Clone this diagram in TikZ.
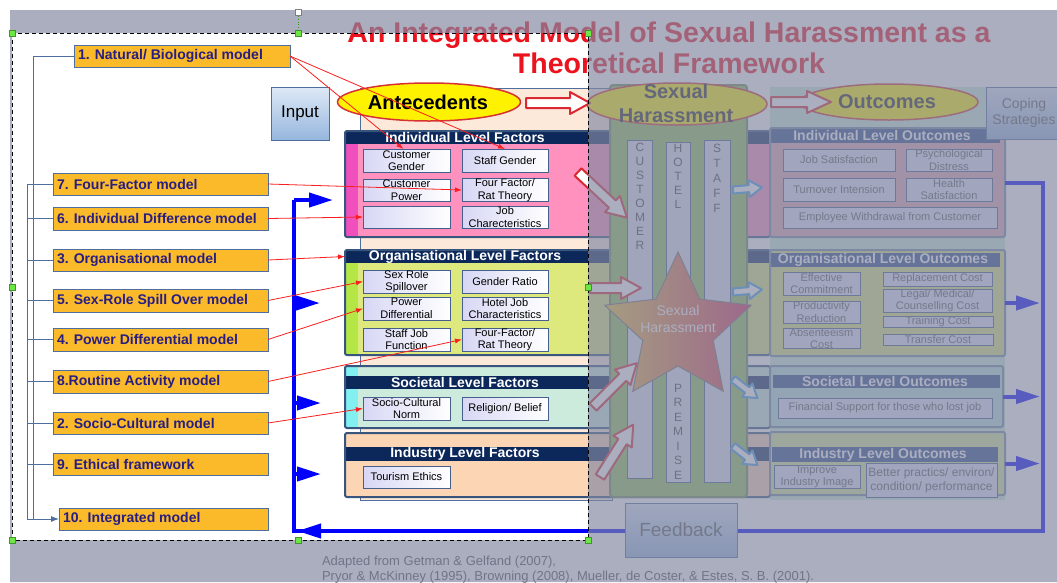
\documentclass[tikz,border=0pt]{standalone}
\usepackage{fontspec}
\setmainfont{Liberation Sans}
\usetikzlibrary{shapes.geometric,arrows.meta,calc}

\definecolor{modelfill}{RGB}{251,186,41}
\definecolor{modeledge}{RGB}{79,110,160}
\definecolor{modeltext}{RGB}{40,30,130}
\definecolor{navy}{RGB}{12,40,90}
\definecolor{steel}{RGB}{55,85,125}
\definecolor{pinkbody}{RGB}{255,145,190}
\definecolor{pinkstrip}{RGB}{240,80,190}
\definecolor{limebody}{RGB}{221,232,125}
\definecolor{limestrip}{RGB}{180,230,70}
\definecolor{mintbody}{RGB}{205,235,220}
\definecolor{cyanstrip}{RGB}{130,240,240}
\definecolor{peach}{RGB}{252,214,180}
\definecolor{peachpanel}{RGB}{253,233,217}
\definecolor{subfill}{RGB}{215,215,245}
\definecolor{subedge}{RGB}{70,95,140}
\definecolor{linkred}{RGB}{250,30,30}
\definecolor{loopblue}{RGB}{0,0,255}
\definecolor{dimgrey}{RGB}{130,136,162}
\definecolor{colgreen}{RGB}{150,195,90}
\definecolor{coledge}{RGB}{110,140,90}
\definecolor{stripgrey}{RGB}{228,228,242}
\definecolor{inputtop}{RGB}{222,233,246}
\definecolor{inputbot}{RGB}{150,182,222}
\definecolor{outhead}{RGB}{45,75,135}
\definecolor{outpanel}{RGB}{205,238,215}
\definecolor{outrose}{RGB}{228,170,178}
\definecolor{outmint}{RGB}{185,228,222}
\definecolor{outtext}{RGB}{90,90,90}
\definecolor{blockred}{RGB}{220,40,50}
\definecolor{blockblue}{RGB}{60,160,225}
\definecolor{ellred}{RGB}{215,50,50}
\definecolor{starL}{RGB}{240,200,60}
\definecolor{starR}{RGB}{215,40,90}
\definecolor{handlefill}{RGB}{110,230,70}
\definecolor{handleedge}{RGB}{60,150,40}
\definecolor{titlered}{RGB}{235,20,30}

% rectangle node given by its corners
\newcommand{\boxnode}[7]{%
  \node[#1, minimum width={(#5)-(#3)}, minimum height={(#6)-(#4)}]
    (#2) at ({((#3)+(#5))/2},{((#4)+(#6))/2}) {#7};}
% orange model box with left-aligned label
\newcommand{\modelbox}[6]{%
  \boxnode{modelbox}{#1}{#2}{#3}{#4}{#5}{}%
  \node[modeltxt] at ($(#1.west)+(4,0)$) {#6};}
% hollow block arrow: style, tail x, tail y, angle, length, shaft, head width, head length
\newcommand{\blockarrow}[8]{%
  \begin{scope}[shift={(#2,#3)},rotate=#4]
    \draw[#1] (0,{-(#6)/2}) -- ({(#5)-(#8)},{-(#6)/2}) -- ({(#5)-(#8)},{-(#7)/2})
      -- (#5,0) -- ({(#5)-(#8)},{(#7)/2}) -- ({(#5)-(#8)},{(#6)/2}) -- (0,{(#6)/2}) -- cycle;
  \end{scope}}

\begin{document}
\begin{tikzpicture}[x=1pt,y=-1pt,
  every node/.style={inner sep=0pt,outer sep=0pt},
  modelbox/.style={draw=modeledge,fill=modelfill,line width=0.8pt},
  modeltxt/.style={anchor=west,text=modeltext,font=\bfseries\fontsize{14}{16}\selectfont},
  grphead/.style={fill=navy},
  outhd/.style={fill=outhead},
  grpline/.style={draw=steel,line width=2pt,rounded corners=2pt},
  headtxt/.style={text=white,font=\bfseries\fontsize{14}{16}\selectfont},
  subbox/.style={draw=subedge,line width=0.8pt,left color=subfill,right color=white,align=center,font=\fontsize{11}{12.5}\selectfont,text=black},
  outbox/.style={draw=subedge,line width=0.8pt,fill=subfill!70!white,align=center,font=\fontsize{11}{12.5}\selectfont,text=outtext},
  redlink/.style={draw=linkred,line width=0.8pt,-{Latex[length=7pt,width=5pt]}},
  leftrail/.style={draw=modeledge,line width=0.9pt},
  fbline/.style={draw=loopblue,line width=4pt,line join=miter},
  fbhead/.style={draw=loopblue,line width=4pt,-{Triangle[length=24pt,width=14pt]}},
  redblock/.style={draw=blockred,line width=2pt,fill=white,line join=round},
  blueblock/.style={draw=blockblue,line width=2pt,fill=white,line join=round},
  softbox/.style={draw=modeledge,line width=0.8pt,top color=inputtop,bottom color=inputbot,align=center},
  colletter/.style={text=black!75,font=\fontsize{12}{12}\selectfont},
  handlesq/.style={draw=handleedge,fill=handlefill,minimum size=6pt,line width=0.5pt},
]
\useasboundingbox (0,0) rectangle (1057,582);
\fill[white] (0,0) rectangle (1057,582);

% ---------- title ----------
\node[anchor=base,text=titlered,font=\bfseries\fontsize{28.5}{30}\selectfont] (title1) at (669,42) {An Integrated Model of Sexual Harassment as a};
\node[anchor=base,text=titlered,font=\bfseries\fontsize{28.5}{30}\selectfont] (title2) at (669,73) {Theoretical Framework};

% ---------- background panels ----------
\boxnode{fill=peachpanel,draw=modeledge,line width=0.5pt}{antePanel}{360}{88}{612}{500}{}
\boxnode{fill=outpanel}{outPanel}{770}{87}{1005}{500}{}

% ---------- factor groups ----------
\boxnode{fill=pinkbody}{indF}{345}{131}{770}{237}{}
\fill[pinkstrip] (345,144) rectangle (358,237);
\boxnode{grphead}{indFhead}{345}{131}{770}{144}{}
\draw[grpline] (indF.north west) rectangle (indF.south east);
\node[headtxt] at (465,137.5) {Individual Level Factors};

\boxnode{fill=limebody}{orgF}{345}{250}{770}{355}{}
\fill[limestrip] (345,263) rectangle (358,355);
\boxnode{grphead}{orgFhead}{345}{250}{770}{263}{}
\draw[grpline] (orgF.north west) rectangle (orgF.south east);
\node[headtxt] at (465,256.5) {Organisational Level Factors};

\boxnode{fill=mintbody}{socF}{345}{366}{770}{428}{}
\fill[cyanstrip] (345,366) rectangle (358,428);
\boxnode{grphead}{socFhead}{345}{376}{770}{389}{}
\draw[grpline] (socF.north west) rectangle (socF.south east);
\node[headtxt] at (465,382.5) {Societal Level Factors};

\boxnode{fill=peach}{indusF}{345}{433}{770}{497}{}
\boxnode{grphead}{indusFhead}{345}{447}{770}{461}{}
\draw[grpline] (indusF.north west) rectangle (indusF.south east);
\node[headtxt] at (465,454) {Industry Level Factors};

% factor items
\boxnode{subbox}{cg}{363}{149}{450}{172}{Customer\\Gender}
\boxnode{subbox}{sg}{462}{149}{548}{172}{Staff Gender}
\boxnode{subbox}{cp}{363}{179}{450}{201}{Customer\\Power}
\boxnode{subbox}{ffa}{462}{179}{548}{201}{Four Factor/\\Rat Theory}
\boxnode{subbox}{emp}{363}{206}{450}{228}{}
\boxnode{subbox}{jc}{462}{206}{548}{228}{Job\\Charecteristics}
\boxnode{subbox}{srs}{363}{270}{450}{293}{Sex Role\\Spillover}
\boxnode{subbox}{gr}{462}{270}{548}{293}{Gender Ratio}
\boxnode{subbox}{pd}{363}{297}{450}{320}{Power\\Differential}
\boxnode{subbox}{hjc}{462}{297}{548}{320}{Hotel Job\\Characteristics}
\boxnode{subbox}{sjf}{363}{328}{450}{351}{Staff Job\\Function}
\boxnode{subbox}{ffb}{462}{328}{548}{351}{Four-Factor/\\Rat Theory}
\boxnode{subbox}{scn}{363}{397}{450}{420}{Socio-Cultural\\Norm}
\boxnode{subbox}{rb}{462}{397}{548}{420}{Religion/ Belief}
\boxnode{subbox}{te}{363}{466}{450}{488}{Tourism Ethics}

% ---------- outcome groups ----------
\boxnode{fill=outrose}{indO}{770}{128}{1005}{237}{}
\boxnode{outhd}{indOhead}{770}{128}{1000}{143}{}
\draw[grpline,draw=steel!70] (indO.north west) rectangle (indO.south east);
\node[headtxt] at (882,135.5) {Individual Level Outcomes};

\boxnode{fill=limebody}{orgO}{770}{250}{1005}{356}{}
\boxnode{outhd}{orgOhead}{770}{253}{1000}{267}{}
\draw[grpline,draw=steel!70] (orgO.north west) rectangle (orgO.south east);
\node[headtxt] at (883,260) {Organisational Level Outcomes};

\boxnode{fill=outmint}{socO}{770}{366}{1003}{427}{}
\boxnode{outhd}{socOhead}{773}{375}{1000}{388}{}
\draw[grpline,draw=steel!70] (socO.north west) rectangle (socO.south east);
\node[headtxt] at (885,381.5) {Societal Level Outcomes};

\boxnode{fill=limebody!70!outpanel}{indusO}{770}{432}{1005}{495}{}
\boxnode{outhd}{indusOhead}{772}{447}{998}{462}{}
\draw[grpline,draw=steel!70] (indusO.north west) rectangle (indusO.south east);
\node[headtxt] at (883,454.5) {Industry Level Outcomes};

% outcome items
\boxnode{outbox}{js}{783}{149}{895}{171}{Job Satisfaction}
\boxnode{outbox}{psy}{906}{149}{992}{171}{Psychological\\Distress}
\boxnode{outbox}{ti}{783}{178}{895}{201}{Turnover Intension}
\boxnode{outbox}{hs}{906}{178}{992}{201}{Health\\Satisfaction}
\boxnode{outbox}{ew}{783}{207}{997}{228}{Employee Withdrawal from Customer}
\boxnode{outbox}{ec}{783}{272}{860}{295}{Effective\\Commitment}
\boxnode{outbox}{prd}{783}{301}{860}{323}{Productivity\\Reduction}
\boxnode{outbox}{ac}{783}{329}{860}{348}{Absenteeism\\Cost}
\boxnode{outbox}{rc}{883}{272}{992}{286}{Replacement Cost}
\boxnode{outbox}{lmc}{883}{289}{992}{312}{Legal/ Medical/\\Counselling Cost}
\boxnode{outbox}{tc}{883}{316}{993}{327}{Training Cost}
\boxnode{outbox}{trc}{883}{334}{993}{345}{Transfer Cost}
\boxnode{outbox}{fs}{778}{398}{992}{418}{Financial Support for those who lost job}
\boxnode{outbox}{iii}{774}{466}{860}{488}{Improve\\Industry Image}
\boxnode{outbox,font=\fontsize{12}{14}\selectfont}{bp}{866}{463}{997}{497}{Better practics/ environ/\\condition/ performance}

% ---------- sexual harassment column ----------
\boxnode{fill=colgreen,draw=coledge,line width=2pt,rounded corners=3pt}{shCol}{610}{85}{747}{497}{}
\boxnode{fill=stripgrey,draw=subedge,line width=0.6pt}{custStrip}{627}{140}{652}{478}{}
\boxnode{fill=stripgrey,draw=subedge,line width=0.6pt}{hotelStrip}{666}{142}{690}{482}{}
\boxnode{fill=stripgrey,draw=subedge,line width=0.6pt}{staffStrip}{704}{140}{730}{482}{}
\foreach \ch [count=\i from 0] in {C,U,S,T,O,M,E,R}
  \node[colletter] (cu\i) at (640,{147+14*\i}) {\ch};
\foreach \ch [count=\i from 0] in {H,O,T,E,L}
  \node[colletter] (ho\i) at (678,{148+14*\i}) {\ch};
\foreach \ch [count=\i from 0] in {S,T,A,F,F}
  \node[colletter] (st\i) at (717,{148+15*\i}) {\ch};
\foreach \ch [count=\i from 0] in {P,R,E,M,I,S,E}
  \node[colletter] (pr\i) at (678,{388+14.5*\i}) {\ch};

\node[star,star points=5,star point ratio=2.08,minimum size=154pt,left color=starL,right color=starR,draw=black!55,line width=1pt] (shStar) at (678,329) {};
\node[text=white,align=center,font=\fontsize{14}{17}\selectfont] (starText) at (678,319) {Sexual\\Harassment};

\node[ellipse,fill=yellow,draw=ellred,line width=1.5pt,minimum width=180pt,minimum height=42pt] (shEll) at (677,104) {};
\node[align=center,text=black!85,font=\bfseries\fontsize{20}{24}\selectfont] (shText) at (676,103) {Sexual\\Harassment};

% ---------- ellipses and side boxes ----------
\node[ellipse,fill=yellow,draw=ellred,line width=1.5pt,minimum width=183pt,minimum height=38pt] (anteEll) at (429,102) {};
\node[font=\bfseries\fontsize{20}{24}\selectfont] (anteText) at (428,102) {Antecedents};
\node[ellipse,fill=yellow,draw=ellred,line width=1.5pt,minimum width=178pt,minimum height=36pt] (outEll) at (889,102) {};
\node[text=black!85,font=\bfseries\fontsize{20}{24}\selectfont] (outText) at (887,102) {Outcomes};

\boxnode{softbox,font=\fontsize{17}{20}\selectfont}{input}{271}{87}{329}{140}{Input}
\boxnode{softbox,text=black!65,font=\fontsize{14}{16}\selectfont}{coping}{986}{87}{1062}{139}{Coping\\Strategies}

% ---------- block arrows ----------
\blockarrow{redblock}{526}{103}{0}{64}{10}{22}{20}
\blockarrow{redblock}{771}{102}{0}{60}{10}{22}{24}
\blockarrow{redblock}{578}{172}{-43}{67}{10}{22}{20}
\blockarrow{redblock}{590}{288}{0}{51}{10}{22}{20}
\blockarrow{redblock}{593}{407}{45}{62}{10}{22}{20}
\blockarrow{redblock}{600}{477}{57.6}{62}{10}{22}{20}
\blockarrow{blueblock}{733}{190}{5}{29}{7}{17}{13}
\blockarrow{blueblock}{733}{292}{5}{29}{7}{17}{13}
\blockarrow{blueblock}{733}{379}{-38}{31}{7}{17}{13}
\blockarrow{blueblock}{733}{446}{-38}{31}{7}{17}{13}

% ---------- feedback loop ----------
\coordinate (railR) at (1043,0);
\coordinate (loopB) at (294,531);
\coordinate (loopT) at (294,200);
\coordinate (loopEnd) at (333,200);
\draw[fbline] (indO.east) -- (indO.east -| railR) -- (railR |- loopB) -- (loopB) -- (loopT);
\draw[fbhead] (loopT) -- (loopEnd);
\draw[fbhead] (294,303) -- (320,303);
\draw[fbhead] (294,403) -- (321,403);
\draw[fbhead] (294,474) -- (321,474);
\draw[fbhead] (330,531) -- (297,531);
\draw[fbhead] (orgO.east) -- ($(orgO.east -| railR)+(-3,0)$);
\draw[fbhead] (socO.east) -- ($(socO.east -| railR)+(-3,0)$);
\draw[fbhead] (indusO.east) -- ($(indusO.east -| railR)+(-3,0)$);
\boxnode{softbox,text=black!65,font=\fontsize{19}{22}\selectfont}{feedback}{625}{503}{737}{557}{Feedback}

% ---------- model list ----------
\modelbox{m1}{74}{45}{290}{67}{1. Natural/ Biological model}
\modelbox{m7}{53}{173}{268}{195}{7. Four-Factor model}
\modelbox{m6}{53}{207}{268}{230}{6. Individual Difference model}
\modelbox{m3}{53}{249}{268}{271}{3. Organisational model}
\modelbox{m5}{53}{289}{268}{312}{5. Sex-Role Spill Over model}
\modelbox{m4}{53}{328}{268}{351}{4. Power Differential model}
\modelbox{m8}{53}{370}{268}{393}{8.Routine Activity model}
\modelbox{m2}{53}{412}{268}{434}{2. Socio-Cultural model}
\modelbox{m9}{53}{453}{268}{475}{9. Ethical framework}
\modelbox{m10}{59}{508}{268}{530}{10. Integrated model}

\coordinate (railL) at (27,0);
\draw[leftrail] (m1.west) -- (33,56) -- (33,519);
\draw[leftrail] (m7.west) -- (m7.west -| railL) -- (railL |- m10.west);
\foreach \m in {m6,m3,m5,m4,m8,m2,m9}
  \draw[leftrail] (\m.west) -- (\m.west -| railL);
\draw[leftrail,-{Latex[length=8pt,width=6pt]}] (railL |- m10.west) -- (m10.west);

% model-to-factor links
\draw[redlink] (m1.east) -- ($(cg.north)+(-3,0)$);
\draw[redlink] (m1.east) -- (sg.north);
\draw[redlink] (m7.east) -- (ffa.west);
\draw[redlink] (m6.east) -- (emp.west);
\draw[redlink] (m3.east) -- (orgFhead.west);
\draw[redlink] (m5.east) -- (srs.west);
\draw[redlink] (m4.east) -- (pd.west);
\draw[redlink] (m8.east) -- (ffb.west);
\draw[redlink] (m2.east) -- (scn.west);

% ---------- source note ----------
\node[anchor=west,text=black!70,font=\fontsize{13}{15}\selectfont] (src1) at (322,562) {Adapted from Getman \& Gelfand (2007),};
\node[anchor=west,text=black!70,font=\fontsize{13}{15}\selectfont] (src2) at (322,577) {Pryor \& McKinney (1995), Browning (2008), Mueller, de Coster, \& Estes, S. B. (2001).};

% ---------- dimmed area outside the selection ----------
\fill[dimgrey,opacity=0.68,even odd rule] (10,10) rectangle (1057,582) (12,33) rectangle (588,540);

% ---------- selection frame and handles ----------
\draw[black,line width=0.8pt,dash pattern=on 4pt off 3pt] (12,33) rectangle (588,540);
\draw[handleedge,line width=0.8pt,dotted] (298,16) -- (298,30);
\node[draw=black!50,fill=white,minimum size=6pt,line width=0.5pt] (rot) at (298,12) {};
\foreach \hx/\hy [count=\k] in {12/33,298/33,588/33,12/287,588/287,12/540,298/540,588/540}
  \node[handlesq] (h\k) at (\hx,\hy) {};
\end{tikzpicture}
\end{document}
